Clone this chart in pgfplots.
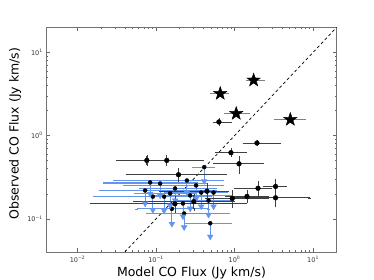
\documentclass[border=0pt]{standalone}
\usepackage{pgfplots}
\usepackage{pgfplotstable}
\pgfplotsset{compat=1.18}
\usepackage{fontspec}
\setmainfont{DejaVu Sans}
\definecolor{cblue}{RGB}{100,149,237}
\pgfdeclareplotmark{fstar}{%
  \pgfpathmoveto{\pgfpointpolar{90}{\pgfplotmarksize}}%
  \pgfpathlineto{\pgfpointpolar{126}{0.40\pgfplotmarksize}}%
  \pgfpathlineto{\pgfpointpolar{162}{\pgfplotmarksize}}%
  \pgfpathlineto{\pgfpointpolar{198}{0.40\pgfplotmarksize}}%
  \pgfpathlineto{\pgfpointpolar{234}{\pgfplotmarksize}}%
  \pgfpathlineto{\pgfpointpolar{270}{0.40\pgfplotmarksize}}%
  \pgfpathlineto{\pgfpointpolar{306}{\pgfplotmarksize}}%
  \pgfpathlineto{\pgfpointpolar{342}{0.40\pgfplotmarksize}}%
  \pgfpathlineto{\pgfpointpolar{18}{\pgfplotmarksize}}%
  \pgfpathlineto{\pgfpointpolar{54}{0.40\pgfplotmarksize}}%
  \pgfpathclose
  \pgfusepathqfillstroke}

\pgfplotstableread{
x y xm xp ym yt
0.411 0.418 0.111 0.129 0.134 0.284
0.0841 0.274 0.0623 0.2399 0.074 0.200
0.0910 0.185 0.0743 0.240 0.057 0.128
0.1268 0.185 0.092 0.363 0.059 0.126
0.159 0.132 0.102 0.307 0.0449 0.0871
0.228 0.116 0.151 0.604 0.0368 0.0792
0.220 0.153 0.173 0.540 0.046 0.107
0.376 0.207 0.245 0.407 0.066 0.141
0.540 0.207 0.337 0.157 0.066 0.141
0.466 0.166 0.291 0.469 0.054 0.112
0.490 0.0885 0.243 0.391 0.0273 0.0612
0.247 0.289 0.217 0.450 0.080 0.209
0.1127 0.266 0.0903 0.310 0.075 0.191
0.324 0.252 0.284 0.373 0.077 0.175
0.175 0.232 0.112 0.393 0.066 0.166
0.0726 0.219 0.0532 0.495 0.066 0.153
0.1513 0.202 0.0972 0.164 0.057 0.145
0.272 0.191 0.188 0.609 0.058 0.133
}\limits

\pgfplotstableread{
x y xm xp ym yp
0.632 1.46 0.081 0.249 0.08 0.08
1.93 0.815 0.60 1.75 0.04 0.04
0.90 0.624 0.304 0.47 0.046 0.046
1.14 0.459 0.589 1.14 0.095 0.084
0.0763 0.504 0.0441 0.110 0.058 0.058
0.137 0.504 0.092 0.253 0.058 0.058
0.193 0.339 0.150 0.574 0.05 0.05
0.445 0.215 0.330 0.355 0.04 0.04
1.99 0.233 0.97 0.86 0.04 0.04
3.33 0.245 0.94 1.10 0.04 0.04
1.44 0.186 0.64 1.16 0.025 0.025
0.935 0.176 0.50 1.655 0.035 0.035
3.33 0.179 2.449 5.71 0.035 0.035
0.303 0.161 0.249 0.657 0.03 0.03
0.174 0.152 0.1588 1.196 0.03 0.03
}\detections

\pgfplotstableread{
x y xm xp
1.75 4.63 0.28 0.55
0.657 3.20 0.142 0.158
1.05 1.84 0.27 0.46
5.13 1.56 1.80 2.61
}\stars

\begin{document}
\begin{tikzpicture}
\useasboundingbox (-46.3pt,-28pt) rectangle (327.7pt,252pt);
\begin{axis}[
  at={(0,0)}, anchor=south west,
  scale only axis, width=290.4pt, height=224.7pt,
  xmode=log, ymode=log,
  xmin=0.004, xmax=20, ymin=0.04, ymax=20,
  axis line style={black!55, line width=0.8pt},
  tick style={black!60, line width=0.5pt},
  major tick length=4pt, minor tick length=2pt,
  xtick={0.01,0.1,1,10},
  xticklabels={10\textsuperscript{−2},10\textsuperscript{−1},10\textsuperscript{0},10\textsuperscript{1}},
  ytick={0.1,1,10},
  yticklabels={10\textsuperscript{−1},10\textsuperscript{0},10\textsuperscript{1}},
  tick label style={font=\fontsize{6.5}{7}\selectfont, text=black!80},
  xticklabel style={yshift=-1pt},
  xlabel={Model CO Flux (Jy km/s)},
  ylabel={Observed CO Flux (Jy km/s)},
  label style={font=\fontsize{12.5}{14}\selectfont},
  xlabel style={at={(axis description cs:0.5,-0.092)}, anchor=center},
  ylabel style={at={(axis description cs:-0.107,0.527)}, anchor=center},
  clip=true,
]
\addplot[black, dashed, line width=0.7pt, dash pattern=on 3pt off 2.5pt] coordinates {(0.04,0.04) (20,20)};
% upper limits (blue)
\addplot[only marks, mark=none,
  error bars/.cd, x dir=both, x explicit, y dir=minus, y explicit,
  error bar style={draw=cblue, line width=0.8pt},
  error mark options={draw=cblue, mark size=1.6pt, line width=0.6pt}]
  table[x=x, y=y, x error minus=xm, x error plus=xp, y error minus=ym] {\limits};
\addplot[only marks, mark=triangle*, mark size=3.3pt,
  mark options={rotate=180, fill=cblue, draw=cblue}]
  table[x=x, y=yt] {\limits};
% detections (black)
\addplot[only marks, mark=*, mark size=2.4pt, mark options={fill=black, draw=black},
  error bars/.cd, x dir=both, x explicit, y dir=both, y explicit,
  error bar style={draw=black!75, line width=0.8pt},
  error mark options={draw=black!75, mark size=1.6pt, line width=0.6pt}]
  table[x=x, y=y, x error minus=xm, x error plus=xp, y error minus=ym, y error plus=yp] {\detections};
% stars
\addplot[only marks, mark=fstar, mark size=7pt, mark options={fill=black, draw=black},
  error bars/.cd, x dir=both, x explicit,
  error bar style={draw=black!50, line width=0.8pt},
  error mark options={draw=black!50, mark size=1.6pt, line width=0.6pt}]
  table[x=x, y=y, x error minus=xm, x error plus=xp] {\stars};
\end{axis}
\end{tikzpicture}
\end{document}
